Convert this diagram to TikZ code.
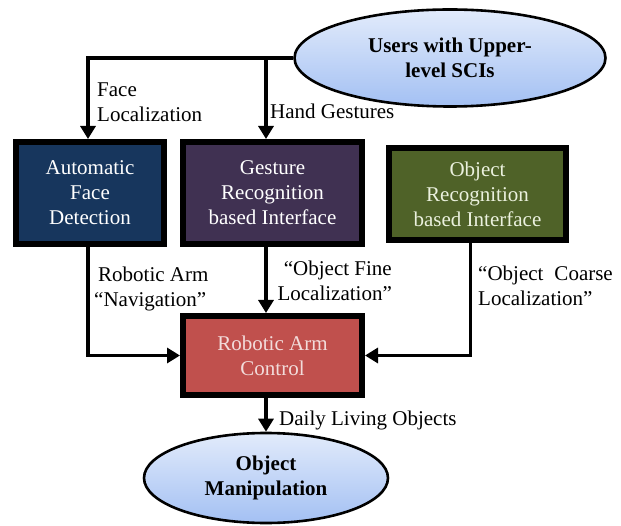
\documentclass[tikz,border=0pt]{standalone}
\usepackage{fontspec}
\setmainfont{Liberation Serif}
\usepackage{tikz}
\usetikzlibrary{shapes.geometric}
\usetikzlibrary{arrows.meta}
\definecolor{facenavy}{HTML}{17365D}
\definecolor{gestplum}{HTML}{403152}
\definecolor{objolive}{HTML}{4F6228}
\definecolor{armred}{HTML}{C0504D}
\definecolor{ellTop}{HTML}{E2EBFB}
\definecolor{ellBot}{HTML}{A3C0F3}
\definecolor{oliveText}{HTML}{EBF1DE}
\definecolor{redText}{HTML}{F2DCDB}
\tikzset{>={Triangle[width=15pt,length=13pt]}}
\tikzset{
  blockbox/.style={
    draw=black, line width=6pt, inner sep=0pt, align=center,
    text=white, minimum width=#1},
  userell/.style={
    ellipse, draw=black, line width=2.6pt, inner sep=0pt, align=center,
    top color=ellTop, bottom color=ellBot, font=\fontsize{21}{25}\selectfont\bfseries},
  conn/.style={->, line width=3.4pt},
  tag/.style={inner sep=0pt, align=left}
}

\begin{document}
\begin{tikzpicture}[x=1pt,y=-1pt,every node/.append style={font=\fontsize{21}{25}\selectfont}]
    \useasboundingbox (0,0) rectangle (621,526);
%    \draw[help lines] (0,0) grid[step=50] (621,526);
    \node[userell,minimum width=311,minimum height=97] (users) at (450,58) {Users with Upper-\\level SCIs};
    \begin{scope}
        \node[blockbox=148,minimum height=102,fill=facenavy] (face) at (90,193) {Automatic\\Face\\Detection};
        \node[blockbox=179,minimum height=102,fill=gestplum] (gesture) at (272.5,193) {Gesture\\Recognition\\based Interface};
        \node[blockbox=177,minimum height=92,fill=objolive,text=oliveText] (objrec) at (477.5,194) {Object\\Recognition\\based Interface};
        \node[blockbox=179,minimum height=79,fill=armred,text=redText] (robot) at (272.5,355.5) {Robotic Arm\\Control};
    \end{scope}
    \node[userell,minimum width=244,minimum height=90] (manip) at (266,478) {Object\\Manipulation};
    % connectors
    \coordinate (fdrop) at ([xshift=-2pt]face.north);
    \coordinate (gdrop) at ([xshift=-6.5pt]gesture.north);
    \draw[conn] (users.west) -| (fdrop);
    \draw[conn] (users.west -| gdrop) -- (gdrop);
    \draw[conn] ([xshift=-2pt]face.south) |- (robot.west);
    \draw[conn] ([xshift=-6.5pt]gesture.south) -- ([xshift=-6.5pt]robot.north);
    \draw[conn] ([xshift=-7pt]objrec.south) |- (robot.east);
    \draw[conn] ([xshift=-6.5pt]robot.south) -- (manip.north);
    % labels
    \node[tag,anchor=north west] (facelab) at (97,83) {Face\\Localization};
    \node[tag,anchor=base west] (handlab) at (270,119) {Hand Gestures};
    \node[tag,anchor=north west] (navlab) at (94,267) {\hspace*{4pt}Robotic Arm\\“Navigation”};
    \node[tag,anchor=north east,align=right] (finelab) at (392,261) {“Object Fine\\Localization”};
    \node[tag,anchor=north west] (coarselab) at (478,266) {“Object\hspace{11pt}Coarse\\Localization”};
    \node[tag,anchor=base west] (dailylab) at (279,425) {Daily Living Objects};
\end{tikzpicture}
\end{document}
